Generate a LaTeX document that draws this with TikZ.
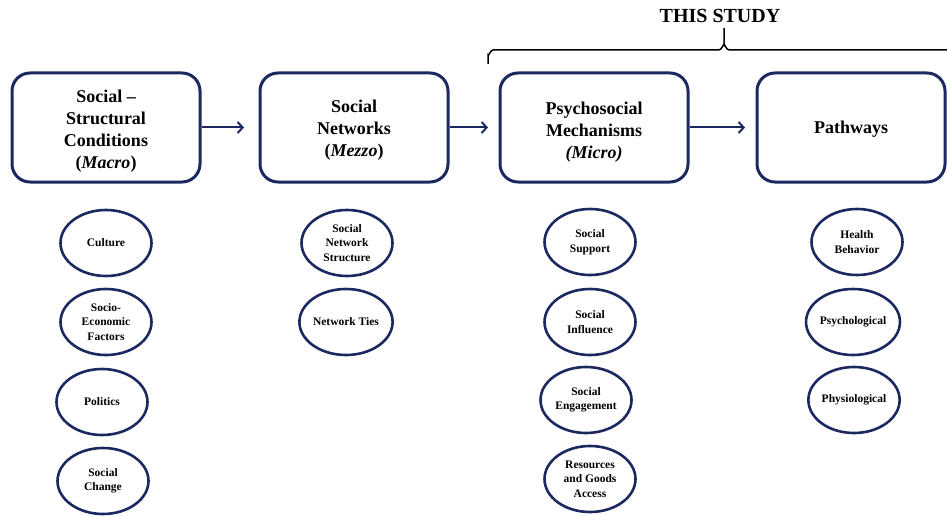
\documentclass[tikz,border=0pt]{standalone}
\usepackage{fontspec}
\setmainfont{Liberation Serif}
\usetikzlibrary{shapes.geometric,arrows.meta}
\definecolor{navy}{RGB}{28,40,96}
\tikzset{
  stage/.style={draw=navy, line width=3pt, rounded corners=18pt, fill=white,
    minimum width=188pt, minimum height=109pt, inner sep=0pt},
  stagetext/.style={align=center, inner sep=0pt,
    font=\bfseries\fontsize{18}{22}\selectfont},
  factor/.style={draw=navy, line width=2.6pt, ellipse, fill=white,
    minimum width=91pt, minimum height=66pt, inner sep=0pt, align=center,
    font=\bfseries\fontsize{11.5}{14.5}\selectfont},
  flow/.style={draw=navy, line width=2pt, -{Straight Barb[length=5pt,width=11pt,line width=2pt]}}
}
\begin{document}
\begin{tikzpicture}[x=1pt,y=-1pt]
\useasboundingbox (0,0) rectangle (947,516);

% the four stages
\node[stage, label={[stagetext, yshift=-3.5pt]center:{Social --\\Structural\\Conditions\\(\textit{Macro})}}] (b1) at (106,127.5) {};
\node[stage, label={[stagetext, yshift=-3pt]center:{Social\\Networks\\(\textit{Mezzo})}}] (b2) at (354,127.5) {};
\node[stage, label={[stagetext, yshift=-4.5pt]center:{Psychosocial\\Mechanisms\\\textit{(Micro)}}}] (b3) at (594,127.5) {};
\node[stage, label={[stagetext, yshift=-2pt]center:{Pathways}}] (b4) at (851,127.5) {};

% flow between stages
\draw[flow, shorten >=14.5pt] (b1) -- (b2);
\draw[flow, shorten >=10.5pt] (b2) -- (b3);
\draw[flow, shorten >=10.5pt] (b3) -- (b4);

% brace over the studied stages
\draw[line width=1.5pt] (488,64) -- (488,55) to[out=-90,in=180] (493,50) -- (719,50)
  to[out=0,in=90] (724,45) -- (724,28);
\draw[line width=1.5pt] (724,45) to[out=90,in=180] (729,50) -- (947,50);
\node[font=\bfseries\fontsize{20}{24}\selectfont] (study) at (720,16) {THIS STUDY};

% macro factors
\node[factor] (c1) at (106,243) {Culture};
\node[factor] (c2) at (106,322) {Socio-\\Economic\\Factors};
\node[factor] (c3) at (102,402) {Politics};
\node[factor] (c4) at (103,481) {Social\\Change};

% mezzo factors
\node[factor] (n1) at (347,243) {Social\\Network\\Structure};
\node[factor] (n2) at (346,322) {Network Ties};

% micro factors
\node[factor] (m1) at (590,242) {Social\\Support};
\node[factor] (m2) at (590,322) {Social\\Influence};
\node[factor] (m3) at (586,400) {Social\\Engagement};
\node[factor] (m4) at (590,479) {Resources\\and Goods\\Access};

% pathways
\node[factor] (p1) at (857,242) {Health\\Behavior};
\node[factor] (p2) at (853,322) {Psychological};
\node[factor] (p3) at (854,400) {Physiological};
\end{tikzpicture}
\end{document}
